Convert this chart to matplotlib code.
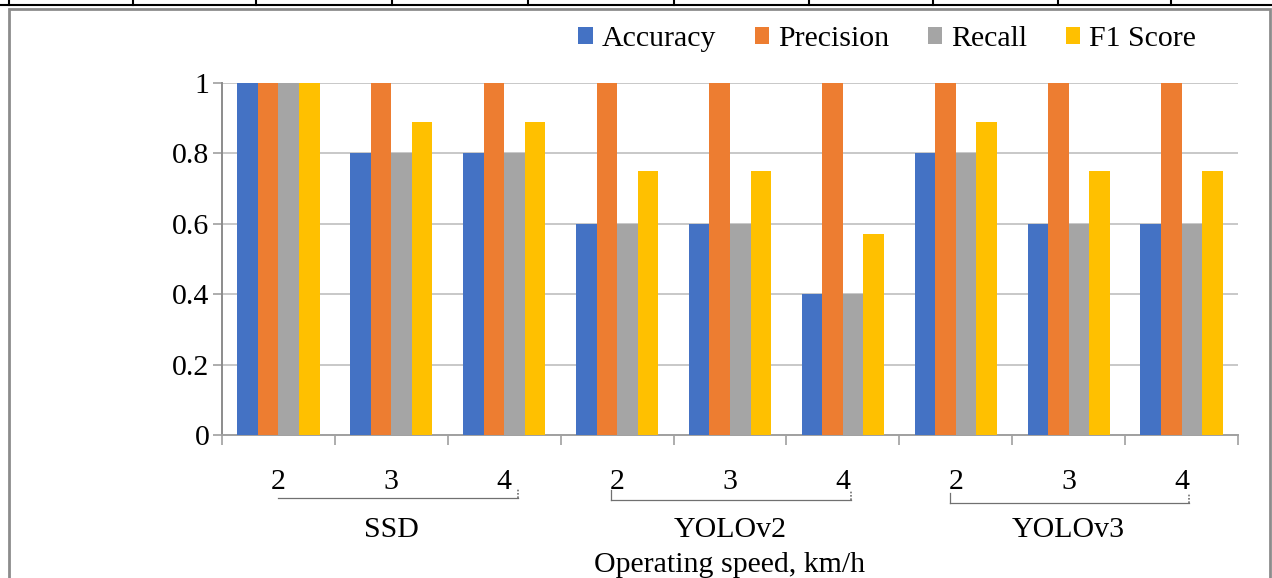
import numpy as np
import matplotlib
matplotlib.use("Agg")
import matplotlib.pyplot as plt
import matplotlib.transforms as mtransforms
from matplotlib.lines import Line2D
from matplotlib.patches import Rectangle

plt.rcParams['font.family'] = ['Liberation Serif', 'DejaVu Serif']

# data
models = ["SSD", "YOLOv2", "YOLOv3"]
speeds = ["2", "3", "4"]
series = ["Accuracy", "Precision", "Recall", "F1 Score"]
accuracy = [1.0, 0.8, 0.8, 0.6, 0.6, 0.4, 0.8, 0.6, 0.6]
precision = [1.0, 1.0, 1.0, 1.0, 1.0, 1.0, 1.0, 1.0, 1.0]
recall = [1.0, 0.8, 0.8, 0.6, 0.6, 0.4, 0.8, 0.6, 0.6]
f1_score = [1.0, 0.889, 0.889, 0.75, 0.75, 0.571, 0.889, 0.75, 0.75]
colors = ["#4472C4", "#ED7D31", "#A5A5A5", "#FFC000"]

values = [accuracy, precision, recall, f1_score]
n = len(accuracy)
x = np.arange(n)
bw = 0.182
fs = 21.5

W, H = 1272, 578
fig = plt.figure(figsize=(W / 100, H / 100), dpi=100)
ax = fig.add_axes([222 / W, 1 - 435 / H, (1238 - 222) / W, (435 - 83) / H])

for k, (name, vals) in enumerate(zip(series, values)):
    ax.bar(x + (k - 1.5) * bw, vals, bw, color=colors[k], label=name, zorder=3)

ax.set_xlim(-0.5, n - 0.5)
ax.set_ylim(0, 1)
ax.set_yticks(np.arange(0, 1.01, 0.2))
ax.set_yticklabels(["0", "0.2", "0.4", "0.6", "0.8", "1"])
ax.yaxis.grid(True, color="#BFBFBF", lw=1.2, zorder=0)
ax.tick_params(axis="y", length=6.5, color="#A0A0A0", width=1.2, labelsize=fs, pad=2.5)
ax.set_xticks(np.arange(-0.5, n, 1))
ax.set_xticklabels([])
ax.tick_params(axis="x", length=7, color="#A0A0A0", width=1.2, direction="out")
for s in ["top", "right"]:
    ax.spines[s].set_visible(False)
ax.spines["left"].set_color("#8C8C8C")
ax.spines["left"].set_linewidth(1.4)
ax.spines["bottom"].set_color("#A0A0A0")
ax.spines["bottom"].set_linewidth(1.4)

# category labels and group brackets
trans = mtransforms.blended_transform_factory(ax.transData, ax.transAxes)
px = 1 / (435 - 83)
for i in range(n):
    ax.text(x[i], -47 * px, speeds[i % 3], transform=trans, ha="center",
            va="center", fontsize=fs)
bracket_y = [-63 * px, -65 * px, -68 * px]
for g, m in enumerate(models):
    i0, i1 = 3 * g, 3 * g + 2
    yb = bracket_y[g]
    x0, x1 = x[i0] - 0.05, x[i1] + 0.07
    if g == 0:
        x0 = x[i0]
        x1 = x[i1] + 0.12
    ax.add_line(Line2D([x0, x1], [yb, yb], transform=trans, color="#707070",
                       lw=0.9, clip_on=False))
    ax.add_line(Line2D([x1, x1], [yb, yb + 10 * px], transform=trans,
                       color="#707070", lw=1.2, ls=(0, (1, 1)), clip_on=False))
    if g > 0:
        ax.add_line(Line2D([x0, x0], [yb, yb + 10 * px], transform=trans,
                           color="#707070", lw=0.9, clip_on=False))
    ax.text(x[i0 + 1], -95 * px, m, transform=trans, ha="center",
            va="center", fontsize=fs)

ax.text(0.5, -130 * px, "Operating speed, km/h", transform=ax.transAxes,
        ha="center", va="center", fontsize=fs)

leg = fig.legend(loc="center", bbox_to_anchor=(887 / W, 1 - 39 / H), ncol=4,
                 frameon=False, fontsize=fs, handlelength=0.47,
                 handleheight=0.47, handletextpad=0.3, columnspacing=1.3)

# chart border and page table lines
fig.add_artist(Rectangle((9 / W, -0.1), (1270 - 9) / W, 1.1 - 9 / H,
                         transform=fig.transFigure, fill=False,
                         edgecolor="#8C8C8C", lw=2))
fig.add_artist(Line2D([0, 1], [1 - 5 / H, 1 - 5 / H], transform=fig.transFigure,
                      color="black", lw=1.5))
for xv in [9, 133, 256, 392, 528, 674, 809, 933, 1058, 1171]:
    fig.add_artist(Line2D([xv / W, xv / W], [1 - 5 / H, 1],
                          transform=fig.transFigure, color="black", lw=1.5))

fig.savefig("out.png", dpi=100)
